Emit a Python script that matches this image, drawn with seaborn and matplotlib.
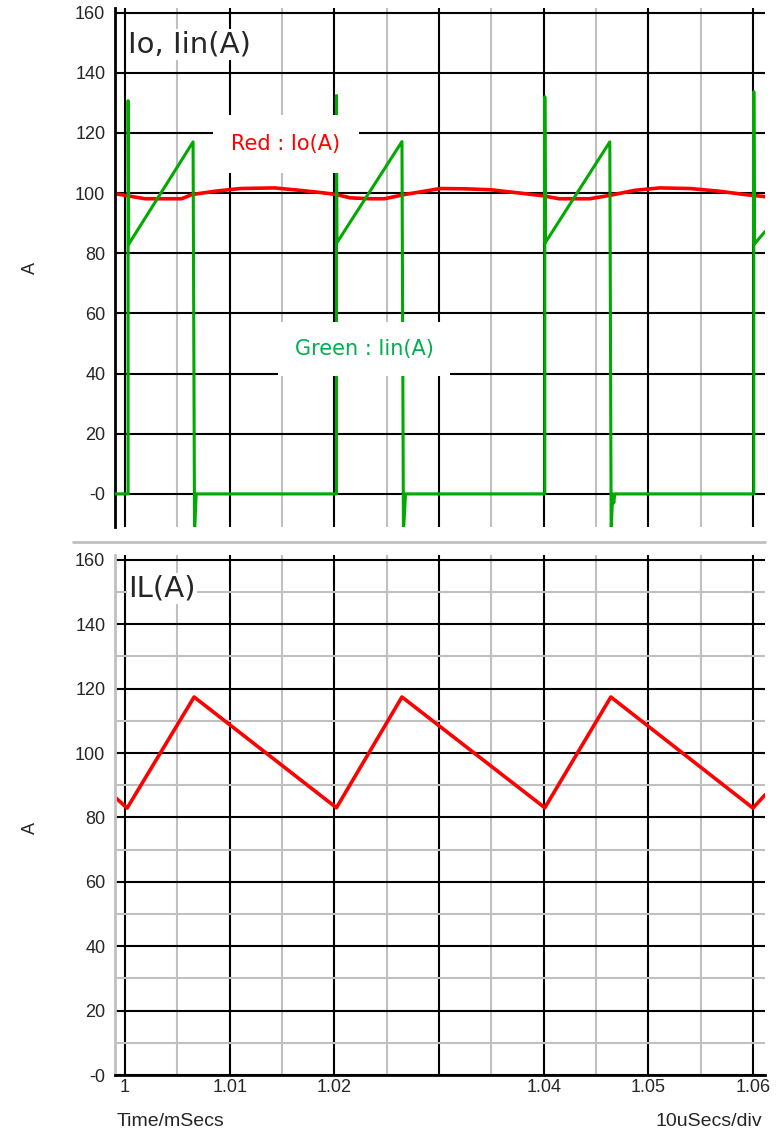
import numpy as np
import pandas as pd
import matplotlib
matplotlib.use("Agg")
import matplotlib.pyplot as plt
import seaborn as sns
from matplotlib.lines import Line2D

# dados (tempo em ms)
# Io - corrente de saída (vermelho, painel de cima)
t_io = [0.99904, 1.0019, 1.0054, 1.0064, 1.0086, 1.0110, 1.0143, 1.0167, 1.0186,
        1.0202, 1.0215, 1.0234, 1.0248, 1.0267, 1.0291, 1.0301, 1.0325, 1.0349,
        1.0377, 1.0399, 1.0415, 1.0444, 1.0463, 1.0487, 1.0511, 1.0540, 1.0568,
        1.0592, 1.06115]
io = [99.8, 98.1, 98.1, 99.5, 100.6, 101.5, 101.7, 100.9, 100.2,
      99.5, 98.4, 98.1, 98.1, 99.5, 100.9, 101.5, 101.4, 101.1,
      100.0, 99.1, 98.1, 98.1, 99.2, 100.9, 101.7, 101.5, 100.6,
      99.5, 98.8]

# Iin - corrente de entrada (verde, painel de cima)
t_iin = [0.99904, 1.00029, 1.00029, 1.00035, 1.0065, 1.00664, 1.0068,
         1.0202, 1.0202, 1.02025, 1.02646, 1.0266, 1.0268,
         1.04011, 1.04011, 1.04016, 1.04632, 1.04645, 1.0466, 1.0467, 1.0468,
         1.06008, 1.06008, 1.06013, 1.06115]
iin = [0, 0, 130.7, 83.0, 117.0, -13, 0,
       0, 132.4, 83.5, 117.1, -13, 0,
       0, 132.0, 83.5, 117.0, -12, 0, -3, 0,
       0, 133.7, 83.0, 87.2]

# IL - corrente no indutor (painel de baixo)
t_il = [0.99904, 1.0002, 1.0066, 1.0202, 1.02646, 1.04011, 1.04642, 1.0600, 1.06115]
il = [86.3, 82.9, 117.4, 83.0, 117.4, 83.0, 117.4, 82.9, 87.0]

x_major = [1.00, 1.01, 1.02, 1.03, 1.04, 1.05, 1.06]
x_labels = ["1", "1.01", "1.02", "", "1.04", "1.05", "1.06"]
x_minor = [1.005, 1.015, 1.025, 1.035, 1.045, 1.055]
y_major = [0, 20, 40, 60, 80, 100, 120, 140, 160]
y_labels = ["-0", "20", "40", "60", "80", "100", "120", "140", "160"]
y_minor = [10, 30, 50, 70, 90, 110, 130, 150]

sns.set_style("white")
plt.rcParams['font.family'] = ['Liberation Sans', 'DejaVu Sans']

fig = plt.figure(figsize=(7.83, 11.43), dpi=100)
W, H = 783, 1143
xlim = (0.99904, 1.06115)

def px_axes(l, t, r, b):
    return fig.add_axes([l / W, 1 - b / H, (r - l) / W, (b - t) / H])

ax1 = px_axes(115, 8, 765, 527)
ax2 = px_axes(115, 555, 765, 1075)

for ax in (ax1, ax2):
    ax.set_xlim(*xlim)
    ax.set_xticks(x_major)
    ax.set_xticks(x_minor, minor=True)
    ax.set_yticks(y_major)
    ax.grid(which='major', color='black', lw=1.5, zorder=0)
    ax.set_axisbelow(True)
    for s in ax.spines.values():
        s.set_visible(False)
    ax.tick_params(axis='x', which='both', length=0)
    ax.tick_params(axis='y', which='major', length=6, width=1.5, color='black',
                   labelsize=13, pad=1)
    ax.tick_params(axis='y', which='minor', length=0)
    ax.set_yticklabels(y_labels)
    ax.set_xlabel("")
    ax.set_ylabel("")

# grade menor
ax1.grid(which='minor', axis='x', color='#c0c0c0', lw=1.5)
ax2.set_yticks(y_minor, minor=True)
ax2.grid(which='minor', color='#c0c0c0', lw=1.5)

ax1.set_ylim(-11, 161.5)
ax2.set_ylim(0, 161.5)
ax1.set_xticklabels([])
ax2.set_xticklabels(x_labels, fontsize=13)
ax2.tick_params(axis='x', pad=3)

ax1.spines['left'].set_visible(True)
ax1.spines['left'].set_color('black')
ax1.spines['left'].set_linewidth(2)
ax2.spines['left'].set_visible(True)
ax2.spines['left'].set_color('#c0c0c0')
ax2.spines['left'].set_linewidth(2)
ax2.spines['bottom'].set_visible(True)
ax2.spines['bottom'].set_color('black')
ax2.spines['bottom'].set_linewidth(2)

# curvas
sns.lineplot(x=t_io, y=io, ax=ax1, color='#ff0000', lw=2.6,
             estimator=None, sort=False, zorder=2)
sns.lineplot(x=t_iin, y=iin, ax=ax1, color='#00aa00', lw=2.2,
             estimator=None, sort=False, zorder=3)
sns.lineplot(x=t_il, y=il, ax=ax2, color='#ff0000', lw=2.6,
             estimator=None, sort=False, zorder=2)

# títulos e legendas dos painéis
ax1.text(0.02, 0.929, "Io, Iin(A)", transform=ax1.transAxes, fontsize=21,
         family='DejaVu Sans', va='center', ha='left', zorder=5,
         bbox=dict(facecolor='white', edgecolor='none', pad=1))
ax2.text(0.02, 0.935, "IL(A)", transform=ax2.transAxes, fontsize=21,
         family='DejaVu Sans', va='center', ha='left', zorder=5,
         bbox=dict(facecolor='white', edgecolor='none', pad=1))
ax1.text(0.263, 0.738, "Red : Io(A)", transform=ax1.transAxes, fontsize=15,
         family='DejaVu Sans', color='#ff0000', va='center', ha='center', zorder=6,
         bbox=dict(boxstyle='square,pad=0.9', facecolor='white', edgecolor='none'))
ax1.text(0.383, 0.343, "Green : Iin(A)", transform=ax1.transAxes, fontsize=15,
         family='DejaVu Sans', color='#00b050', va='center', ha='center', zorder=6,
         bbox=dict(boxstyle='square,pad=0.8', facecolor='white', edgecolor='none'))

# rótulos do eixo y
fig.text(30 / W, 1 - 268 / H, "A", rotation=90, fontsize=13, ha='center', va='center')
fig.text(30 / W, 1 - 828 / H, "A", rotation=90, fontsize=13, ha='center', va='center')

# rodapé
fig.text(117 / W, 1 - 1122 / H, "Time/mSecs", fontsize=14, ha='left', va='center')
fig.text(762 / W, 1 - 1122 / H, "10uSecs/div", fontsize=14, ha='right', va='center')

# linha separadora entre os painéis
fig.add_artist(Line2D([73 / W, 765 / W], [1 - 542 / H, 1 - 542 / H],
                      color='#c0c0c0', lw=2))

fig.savefig("out.png", dpi=100)
